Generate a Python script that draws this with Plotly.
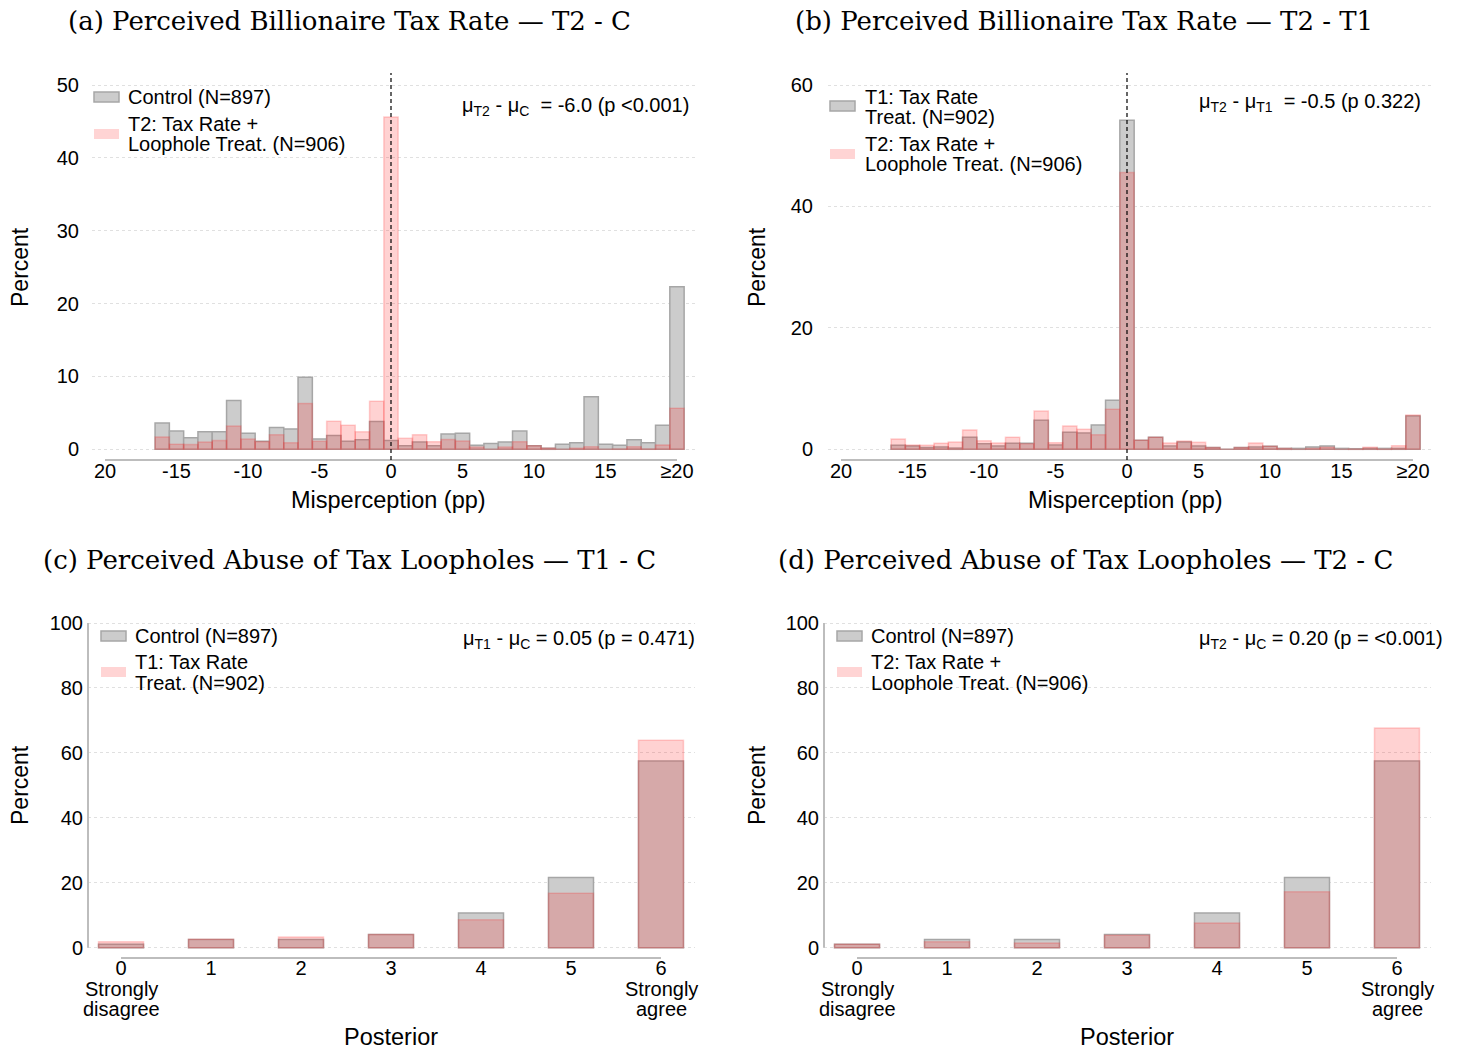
import plotly.graph_objects as go

W, H = 1458, 1051
SANS = "Liberation Sans, Arial, sans-serif"
SERIF = "DejaVu Serif, Liberation Serif, serif"

# ---------------- data ----------------
bins = [-16, -15, -14, -13, -12, -11, -10, -9, -8, -7, -6, -5, -4, -3, -2, -1, 0,
        1, 2, 3, 4, 5, 6, 7, 8, 9, 10, 11, 12, 13, 14, 15, 16, 17, 18, 19, 20]
control_misp = [3.6, 2.5, 1.6, 2.4, 2.4, 6.7, 2.2, 1.1, 3.0, 2.8, 9.9, 1.4, 1.9, 1.1, 1.3, 3.8, 1.2,
                0.5, 1.0, 0.5, 2.1, 2.2, 0.55, 0.8, 1.0, 2.5, 0.5, 0.15, 0.7, 0.9, 7.2, 0.7, 0.55, 1.3, 0.9, 3.3, 22.3]
t1_misp = [0.65, 0.55, 0.3, 0.4, 0.2, 2.0, 0.9, 0.55, 1.0, 1.0, 4.8, 0.7, 2.8, 2.7, 4.0, 8.1, 54.2,
           1.5, 2.0, 0.55, 1.2, 0.55, 0.3, 0.0, 0.3, 0.4, 0.5, 0.15, 0.15, 0.4, 0.55, 0.15, 0.1, 0.15, 0.15, 0.15, 5.5]
t2_misp = [1.7, 0.7, 0.65, 1.0, 1.2, 3.2, 1.4, 1.05, 2.0, 0.9, 6.3, 1.1, 3.85, 3.3, 2.4, 6.6, 45.6,
           1.5, 2.0, 1.05, 1.35, 1.15, 0.3, 0.0, 0.3, 1.05, 0.5, 0.15, 0.0, 0.15, 0.35, 0.0, 0.05, 0.35, 0.05, 0.6, 5.65]
misp_tickvals = [-20, -15, -10, -5, 0, 5, 10, 15, 20]
misp_ticktext = ["20", "-15", "-10", "-5", "0", "5", "10", "15", "≥20"]

posterior = [0, 1, 2, 3, 4, 5, 6]
control_post = [1.1, 2.5, 2.5, 4.1, 10.7, 21.6, 57.5]
t1_post = [1.8, 2.6, 3.3, 4.1, 8.6, 16.8, 63.9]
t2_post = [1.1, 1.85, 1.45, 3.8, 7.6, 17.2, 67.7]

titles = ["(a) Perceived Billionaire Tax Rate — T2 - C",
          "(b) Perceived Billionaire Tax Rate — T2 - T1",
          "(c) Perceived Abuse of Tax Loopholes — T1 - C",
          "(d) Perceived Abuse of Tax Loopholes — T2 - C"]
stats = ["μ<sub>T2</sub> - μ<sub>C</sub>\u00a0\u00a0= -6.0 (p &lt;0.001)",
         "μ<sub>T2</sub> - μ<sub>T1</sub>\u00a0\u00a0= -0.5 (p 0.322)",
         "μ<sub>T1</sub> - μ<sub>C</sub> = 0.05 (p = 0.471)",
         "μ<sub>T2</sub> - μ<sub>C</sub> = 0.20 (p = &lt;0.001)"]
legend_a = [["Control (N=897)"], ["T2: Tax Rate +", "Loophole Treat. (N=906)"]]
legend_b = [["T1: Tax Rate", "Treat. (N=902)"], ["T2: Tax Rate +", "Loophole Treat. (N=906)"]]
legend_c = [["Control (N=897)"], ["T1: Tax Rate", "Treat. (N=902)"]]
legend_d = [["Control (N=897)"], ["T2: Tax Rate +", "Loophole Treat. (N=906)"]]

# ---------------- styles ----------------
GRAY_FILL = "#cccccc"
GRAY_LINE = "#a6a6a6"
PINK_FILL = "rgba(255,30,30,0.2)"
PINK_SWATCH = "rgb(255,212,212)"


def px(x):
    return x / W


def py(y):
    return 1 - y / H


fig = go.Figure()


def add_pair(xs, ys_gray, ys_pink, ax, width):
    fig.add_trace(go.Bar(x=xs, y=ys_gray, width=width, xaxis="x" + ax, yaxis="y" + ax,
                         marker=dict(color=GRAY_FILL, line=dict(color=GRAY_LINE, width=1.5)),
                         showlegend=False, hoverinfo="x+y"))
    fig.add_trace(go.Bar(x=xs, y=ys_pink, width=width, xaxis="x" + ax, yaxis="y" + ax,
                         marker=dict(color=PINK_FILL, line=dict(color=PINK_FILL, width=1.5)),
                         showlegend=False, hoverinfo="x+y"))


add_pair(bins, control_misp, t2_misp, "", 1)
add_pair(bins, t1_misp, t2_misp, "2", 1)
add_pair(posterior, control_post, t1_post, "3", 0.5)
add_pair(posterior, control_post, t2_post, "4", 0.5)

tickfont = dict(family=SANS, size=20, color="black")


def xax(l, r, rng, tv, tt, standoff):
    return dict(domain=[px(l), px(r)], range=rng, tickvals=tv, ticktext=tt, showgrid=False,
                zeroline=False, showline=False, ticks="", tickfont=tickfont,
                ticklabelstandoff=standoff, fixedrange=True)


def yax(t, b, rng, tv, standoff, anchor):
    return dict(domain=[py(b), py(t)], range=rng, tickvals=tv, showgrid=True,
                gridcolor="#e0e0e0", griddash="dot", gridwidth=1, zeroline=False,
                showline=False, ticks="", tickfont=tickfont, ticklabelstandoff=standoff,
                anchor=anchor, fixedrange=True)


# panel geometry (pixels)
A_L, A_R, B_L, B_R = 92, 695, 828, 1431
TOP_AB, BOT_AB = 73, 460
C_L, C_R, D_L, D_R = 88, 695, 824, 1431
TOP_CD, BOT_CD = 612, 958

misp_range = [-20.91, 21.26]
post_range = [-0.367, 6.378]

fig.update_layout(
    width=W, height=H, margin=dict(l=0, r=0, t=0, b=0),
    paper_bgcolor="white", plot_bgcolor="white", barmode="overlay",
    xaxis=xax(A_L, A_R, misp_range, misp_tickvals, misp_ticktext, -3),
    yaxis=yax(TOP_AB, BOT_AB, [-1.47, 51.65], [0, 10, 20, 30, 40, 50], 12, "x"),
    xaxis2=xax(B_L, B_R, misp_range, misp_tickvals, misp_ticktext, -3),
    yaxis2=yax(TOP_AB, BOT_AB, [-1.76, 61.98], [0, 20, 40, 60], 14, "x2"),
    xaxis3=xax(C_L, C_R, post_range, posterior, [str(v) for v in posterior], -4),
    yaxis3=yax(TOP_CD, BOT_CD, [-3.17, 103.4], [0, 20, 40, 60, 80, 100], 4, "x3"),
    xaxis4=xax(D_L, D_R, post_range, posterior, [str(v) for v in posterior], -4),
    yaxis4=yax(TOP_CD, BOT_CD, [-3.17, 103.4], [0, 20, 40, 60, 80, 100], 4, "x4"),
)
fig.layout.xaxis.anchor = "y"
fig.layout.xaxis2.anchor = "y2"
fig.layout.xaxis3.anchor = "y3"
fig.layout.xaxis4.anchor = "y4"

shapes = []
AXIS_COL = "#bdbdbd"
# x-axis lines spanning the tick range
for ax, x0, x1 in [("", -20, 20), ("2", -20, 20), ("3", 0, 6), ("4", 0, 6)]:
    shapes.append(dict(type="line", xref="x" + ax, yref=("y" + ax + " domain"),
                       x0=x0, x1=x1, y0=0, y1=0, line=dict(color=AXIS_COL, width=2)))
# y-axis lines for posterior panels
for ax in ["3", "4"]:
    shapes.append(dict(type="line", xref="x" + ax + " domain", yref="y" + ax,
                       x0=0, x1=0, y0=0, y1=100, line=dict(color=AXIS_COL, width=2)))
# dashed zero lines
for ax in ["", "2"]:
    shapes.append(dict(type="line", xref="x" + ax, yref="y" + ax + " domain",
                       x0=0, x1=0, y0=0, y1=1,
                       line=dict(color="black", width=1.2, dash="4px,3px")))

annotations = []


def ann(text, x, y, size=20, xanchor="center", family=SANS, angle=0):
    annotations.append(dict(text=text, x=px(x), y=py(y), xref="paper", yref="paper",
                            showarrow=False, xanchor=xanchor, yanchor="middle",
                            textangle=angle, font=dict(family=family, size=size, color="black")))


def legend(entries, sx, tx, swatch_y, line_ys):
    for i, (lines, sy, lys) in enumerate(zip(entries, swatch_y, line_ys)):
        if i == 0:
            shapes.append(dict(type="rect", xref="paper", yref="paper",
                               x0=px(sx), x1=px(sx + 25), y0=py(sy + 5), y1=py(sy - 5),
                               fillcolor=GRAY_FILL, line=dict(color=GRAY_LINE, width=1.5)))
        else:
            shapes.append(dict(type="rect", xref="paper", yref="paper",
                               x0=px(sx), x1=px(sx + 25), y0=py(sy + 5), y1=py(sy - 5),
                               fillcolor=PINK_SWATCH, line=dict(width=0)))
        for t, ly in zip(lines, lys):
            ann(t, tx, ly, size=20, xanchor="left")


legend(legend_a, 94, 126, [97, 134], [[97], [124, 144]])
legend(legend_b, 830, 863, [106, 154], [[97, 117], [144, 164]])
legend(legend_c, 101, 133, [636, 672], [[636], [662, 683]])
legend(legend_d, 837, 869, [636, 672], [[636], [662, 683]])

# stats text
ann(stats[0], 460, 107, xanchor="left")
ann(stats[1], 1197, 103, xanchor="left")
ann(stats[2], 461, 639, xanchor="left")
ann(stats[3], 1197, 639, xanchor="left")

# titles
ann(titles[0], 349, 21, size=26, family=SERIF)
ann(titles[1], 1084, 21, size=26, family=SERIF)
ann(titles[2], 349, 560, size=26, family=SERIF)
ann(titles[3], 1085, 560, size=26, family=SERIF)

# axis titles
for x in [20, 757]:
    ann("Percent", x, 267, size=23, angle=-90)
    ann("Percent", x, 785, size=23, angle=-90)
ann("Misperception (pp)", 388, 500, size=23.5)
ann("Misperception (pp)", 1125, 500, size=23.5)
ann("Posterior", 391, 1037, size=23.5)
ann("Posterior", 1127, 1037, size=23.5)

# extra tick-label lines for posterior scale endpoints
for cx0, cx6 in [(121, 661), (857, 1397)]:
    ann("Strongly", cx0, 989)
    ann("disagree", cx0, 1009)
    ann("Strongly", cx6, 989)
    ann("agree", cx6, 1009)

fig.update_layout(shapes=shapes, annotations=annotations)
fig.write_html("out.html")
